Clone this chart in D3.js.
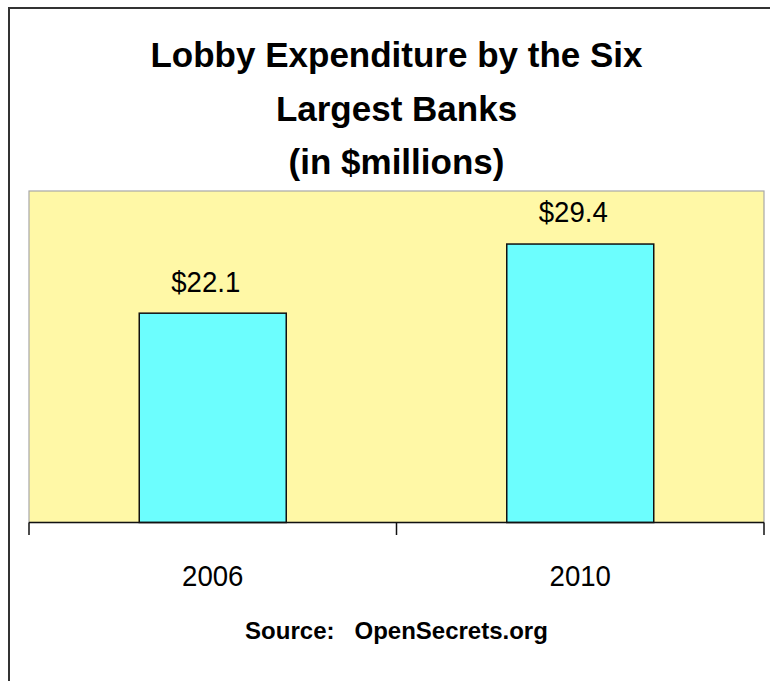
<!DOCTYPE html>
<html>
<head>
<meta charset="utf-8">
<script src="https://cdn.jsdelivr.net/npm/d3@7"></script>
<style>
  html, body { margin: 0; padding: 0; background: #fff; }
  svg { display: block; }
  text { font-family: "Liberation Sans", Arial, Helvetica, sans-serif; fill: #000; }
</style>
</head>
<body>
<svg id="chart" width="770" height="681"></svg>
<script>
// ---- data ----
const titleLines = ["Lobby Expenditure by the Six", "Largest Banks", "(in $millions)"];
const categories = ["2006", "2010"];
const values = [22.1, 29.4];
const valueLabels = ["$22.1", "$29.4"];
const yDomain = [0, 35];
const sourceText = "Source:   OpenSecrets.org";

// ---- layout ----
const W = 770, H = 681;
const plot = { left: 29, right: 764, top: 191, bottom: 522.5 };
const svg = d3.select("#chart");

// outer frame (extends beyond the visible window on right/bottom)
svg.append("rect")
  .attr("x", 9).attr("y", 8)
  .attr("width", W + 20).attr("height", H + 20)
  .attr("fill", "none").attr("stroke", "#333").attr("stroke-width", 2);

// title
const title = svg.append("text")
  .attr("text-anchor", "middle")
  .style("font-weight", "bold")
  .style("font-size", "35px");
const titleBaselines = [67, 120.5, 174];
titleLines.forEach((t, i) => {
  title.append("tspan").attr("x", (plot.left + plot.right) / 2).attr("y", titleBaselines[i]).text(t);
});

// scales
const x = d3.scaleBand()
  .domain(categories)
  .range([plot.left, plot.right])
  .paddingInner(0.6)
  .paddingOuter(0.3);
const y = d3.scaleLinear().domain(yDomain).range([plot.bottom, plot.top]);

// plot area
svg.append("rect")
  .attr("x", plot.left).attr("y", plot.top)
  .attr("width", plot.right - plot.left).attr("height", plot.bottom - plot.top)
  .attr("fill", "#FFF8A6").attr("stroke", "#a8a8a8").attr("stroke-width", 1.2);

// bars
svg.append("g").selectAll("rect")
  .data(categories)
  .join("rect")
  .attr("x", d => x(d))
  .attr("y", (d, i) => y(values[i]))
  .attr("width", x.bandwidth())
  .attr("height", (d, i) => y(0) - y(values[i]))
  .attr("fill", "#6CFEFE")
  .attr("stroke", "#111")
  .attr("stroke-width", 1.5);

// value labels
svg.append("g").selectAll("g")
  .data(categories)
  .join("g")
  .attr("transform", (d, i) => `translate(${x(d) + x.bandwidth() / 2 - 7},${y(values[i]) - 21.6})`)
  .append("text")
  .attr("text-anchor", "middle")
  .attr("transform", "scale(0.92,1)")
  .style("font-size", "30px")
  .text((d, i) => valueLabels[i]);

// x axis (labels at band centres)
const xAxis = svg.append("g")
  .attr("transform", `translate(0,${plot.bottom})`)
  .call(d3.axisBottom(x).tickSize(0).tickPadding(0));
xAxis.select(".domain").remove();
xAxis.selectAll("text")
  .attr("y", 63.2).attr("dy", 0)
  .attr("transform", "scale(0.92,1)")
  .style("font-family", "'Liberation Sans', Arial, sans-serif")
  .style("font-size", "30px")
  .attr("fill", "#000");

// axis line and boundary ticks
const boundaries = d3.range(categories.length + 1).map(i => x.range()[0] + i * x.step());
const axisLine = svg.append("g");
axisLine.append("line")
  .attr("x1", plot.left).attr("x2", plot.right)
  .attr("y1", plot.bottom).attr("y2", plot.bottom)
  .attr("stroke", "#111").attr("stroke-width", 1.5);
axisLine.selectAll("line.tick")
  .data(boundaries)
  .join("line")
  .attr("class", "tick")
  .attr("x1", d => d).attr("x2", d => d)
  .attr("y1", plot.bottom).attr("y2", plot.bottom + 12.5)
  .attr("stroke", "#111").attr("stroke-width", 1.5);

// source
svg.append("text")
  .attr("x", (plot.left + plot.right) / 2)
  .attr("y", 639)
  .attr("text-anchor", "middle")
  .style("font-weight", "bold")
  .style("font-size", "24px")
  .style("white-space", "pre")
  .text(sourceText);
</script>
</body>
</html>
